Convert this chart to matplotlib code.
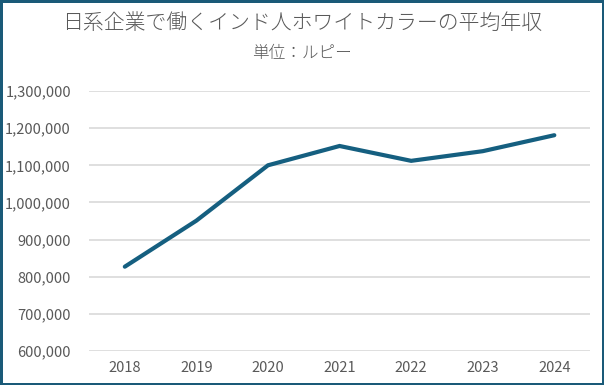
import matplotlib.pyplot as plt
from matplotlib.ticker import FuncFormatter

plt.rcParams['font.family'] = ['Noto Sans CJK JP', 'DejaVu Sans']

years = ['2018', '2019', '2020', '2021', '2022', '2023', '2024']
salary = [827000, 951000, 1100000, 1152000, 1112000, 1138000, 1181000]

title = '日系企業で働くインド人ホワイトカラーの平均年収'
subtitle = '単位：ルピー'

line_color = '#155F80'
text_color = '#595959'

fig = plt.figure(figsize=(6.04, 3.85), dpi=100)
fig.patch.set_edgecolor('#1A5A78')
fig.patch.set_linewidth(2.5)

ax = fig.add_axes([0.1474, 0.0883, 0.8296, 0.6753])
x = range(len(years))
ax.plot(x, salary, color=line_color, linewidth=3, solid_capstyle='round', solid_joinstyle='miter')

ax.set_ylim(600000, 1300000)
ax.set_yticks(range(600000, 1300001, 100000))
ax.yaxis.set_major_formatter(FuncFormatter(lambda v, p: '{:,.0f}'.format(v)))
ax.set_xlim(-0.5, len(years) - 0.5)
ax.set_xticks(list(x))
ax.set_xticklabels(years)

ax.grid(axis='y', color='#D9D9D9', linewidth=1.2)
ax.set_axisbelow(True)
for s in ax.spines.values():
    s.set_visible(False)
ax.tick_params(length=0, labelsize=10.5, labelcolor=text_color, pad=7)
ax.tick_params(axis='y', pad=13)

fig.text(0.5, 0.94, title, ha='center', va='center', fontsize=15,
         color=text_color, fontweight='light')
fig.text(0.5, 0.862, subtitle, ha='center', va='center', fontsize=12,
         color=text_color, fontweight='light')

fig.savefig('out.png', dpi=100, edgecolor=fig.get_edgecolor())
